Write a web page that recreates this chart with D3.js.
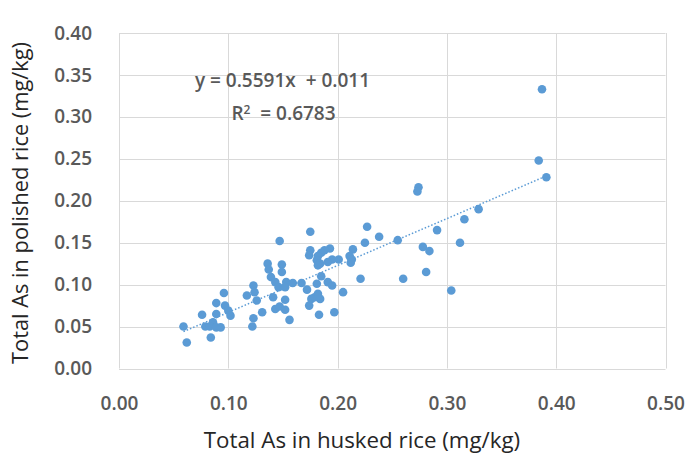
<!DOCTYPE html>
<html>
<head>
<meta charset="utf-8">
<script src="https://cdn.jsdelivr.net/npm/d3@7"></script>
<style>
  html, body { margin: 0; padding: 0; background: #fff; }
  svg { display: block; }
</style>
</head>
<body>
<svg id="chart" width="697" height="461"></svg>
<script>
// Husked-rice total As (x, mg/kg)
const huskedAs = [
  0.147, 0.136, 0.149, 0.137, 0.149, 0.139, 0.143, 0.153, 0.159, 0.146,
  0.152, 0.123, 0.117, 0.124, 0.126, 0.141, 0.152, 0.096, 0.089, 0.097,
  0.100, 0.102, 0.089, 0.076, 0.086, 0.079, 0.083, 0.089, 0.093, 0.059,
  0.084, 0.062, 0.131, 0.143, 0.147, 0.152, 0.123, 0.122, 0.156, 0.274,
  0.273, 0.175, 0.227, 0.238, 0.255, 0.225, 0.278, 0.284, 0.214, 0.211,
  0.213, 0.212, 0.193, 0.188, 0.185, 0.182, 0.181, 0.184, 0.182, 0.175,
  0.174, 0.195, 0.201, 0.191, 0.167, 0.185, 0.191, 0.195, 0.181, 0.172,
  0.205, 0.221, 0.260, 0.281, 0.176, 0.179, 0.182, 0.184, 0.174, 0.183,
  0.197, 0.387, 0.384, 0.391, 0.329, 0.316, 0.291, 0.312, 0.304
];
// Polished-rice total As (y, mg/kg)
const polishedAs = [
  0.152, 0.125, 0.124, 0.118, 0.115, 0.109, 0.103, 0.103, 0.102, 0.097,
  0.097, 0.099, 0.087, 0.091, 0.081, 0.085, 0.082, 0.090, 0.078, 0.075,
  0.069, 0.063, 0.065, 0.064, 0.055, 0.050, 0.050, 0.049, 0.049, 0.050,
  0.037, 0.031, 0.067, 0.071, 0.074, 0.070, 0.060, 0.050, 0.058, 0.216,
  0.211, 0.163, 0.169, 0.157, 0.153, 0.150, 0.145, 0.140, 0.142, 0.134,
  0.130, 0.126, 0.143, 0.141, 0.138, 0.134, 0.129, 0.125, 0.123, 0.141,
  0.135, 0.130, 0.130, 0.127, 0.102, 0.110, 0.103, 0.099, 0.101, 0.094,
  0.091, 0.107, 0.107, 0.115, 0.083, 0.085, 0.089, 0.083, 0.075, 0.064,
  0.067, 0.333, 0.248, 0.228, 0.190, 0.178, 0.165, 0.150, 0.093
];
const xTicks = [0, 0.1, 0.2, 0.3, 0.4, 0.5];
const yTicks = [0, 0.05, 0.1, 0.15, 0.2, 0.25, 0.3, 0.35, 0.4];
const slope = 0.5591, intercept = 0.011;
const eqLabel = "y = 0.5591x  + 0.011";
const r2Value = "0.6783";
const xTitle = "Total As in husked rice (mg/kg)";
const yTitle = "Total As in polished rice (mg/kg)";

const points = huskedAs.map((x, i) => ({ x, y: polishedAs[i] }));

const svg = d3.select("#chart");
const m = { left: 119, right: 665.5, top: 33, bottom: 368.5 };
const x = d3.scaleLinear().domain([0, 0.5]).range([m.left, m.right]);
const y = d3.scaleLinear().domain([0, 0.4]).range([m.bottom, m.top]);
const font = "'Open Sans', 'Noto Sans', sans-serif";
const gridColor = "#d9d9d9";
const tickColor = "#595959";

// gridlines
svg.append("g").selectAll("line").data(xTicks).join("line")
  .attr("x1", d => Math.round(x(d)) + 0.5).attr("x2", d => Math.round(x(d)) + 0.5)
  .attr("y1", m.top).attr("y2", m.bottom)
  .attr("stroke", gridColor).attr("stroke-width", 1);
svg.append("g").selectAll("line").data(yTicks).join("line")
  .attr("y1", d => Math.round(y(d)) + 0.5).attr("y2", d => Math.round(y(d)) + 0.5)
  .attr("x1", m.left).attr("x2", m.right)
  .attr("stroke", gridColor).attr("stroke-width", 1);

// axes (labels only)
const xAxis = svg.append("g").attr("transform", `translate(0,${m.bottom})`)
  .call(d3.axisBottom(x).tickValues(xTicks).tickFormat(d3.format(".2f")).tickSize(0).tickPadding(28));
const yAxis = svg.append("g").attr("transform", `translate(${m.left},0)`)
  .call(d3.axisLeft(y).tickValues(yTicks).tickFormat(d3.format(".2f")).tickSize(0).tickPadding(27));
[xAxis, yAxis].forEach(a => {
  a.select(".domain").remove();
  a.selectAll("text").attr("fill", tickColor).attr("font-family", font)
    .attr("font-size", 19).attr("font-weight", 600);
});

// trendline
const xMin = d3.min(huskedAs), xMax = d3.max(huskedAs);
svg.append("line")
  .attr("x1", x(xMin)).attr("y1", y(slope * xMin + intercept))
  .attr("x2", x(xMax)).attr("y2", y(slope * xMax + intercept))
  .attr("stroke", "#5b9bd5").attr("stroke-width", 1.5)
  .attr("stroke-dasharray", "1.5,2");

// points
svg.append("g").selectAll("circle").data(points).join("circle")
  .attr("cx", d => x(d.x)).attr("cy", d => y(d.y)).attr("r", 4.3)
  .attr("fill", "#5b9bd5");

// equation
svg.append("text").attr("x", 282.5).attr("y", 87).attr("text-anchor", "middle")
  .style("white-space", "pre")
  .attr("font-family", font).attr("font-size", 19).attr("font-weight", 600)
  .attr("fill", tickColor).text(eqLabel);
const r2 = svg.append("text").attr("x", 283.5).attr("y", 120).attr("text-anchor", "middle")
  .style("white-space", "pre")
  .attr("font-family", font).attr("font-size", 19).attr("font-weight", 600)
  .attr("fill", tickColor);
r2.append("tspan").text("R");
r2.append("tspan").attr("font-size", 12).attr("dy", -6).text("2");
r2.append("tspan").attr("dy", 6).text("  = " + r2Value);

// axis titles
svg.append("text").attr("x", 362).attr("y", 448).attr("text-anchor", "middle")
  .attr("font-family", font).attr("font-size", 22.3).attr("fill", "#262626").text(xTitle);
svg.append("text").attr("transform", "translate(27.5,203) rotate(-90)").attr("text-anchor", "middle")
  .attr("font-family", font).attr("font-size", 21.8).attr("fill", "#262626").text(yTitle);
</script>
</body>
</html>
